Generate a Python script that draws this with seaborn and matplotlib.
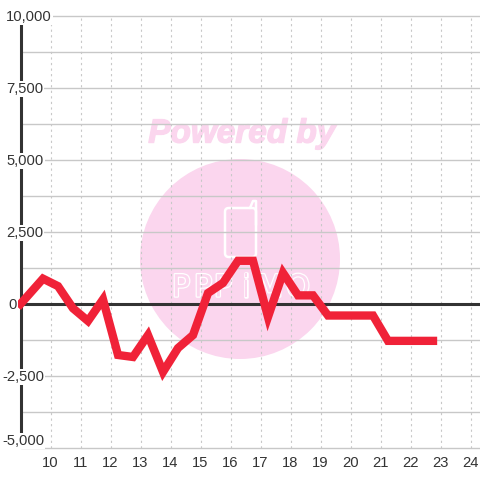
import matplotlib
matplotlib.use("Agg")
import matplotlib.pyplot as plt
import matplotlib.patheffects as pe
import pandas as pd
import seaborn as sns
from matplotlib.patches import Circle, FancyBboxPatch

#------Data------

hours = [9.0, 9.75, 10.25, 10.75, 11.25, 11.75, 12.25, 12.75, 13.25, 13.75, 14.25, 14.75,
         15.25, 15.75, 16.25, 16.75, 17.25, 17.75, 18.25, 18.75, 19.25, 19.75, 20.25, 20.75,
         21.25, 21.75, 22.25, 22.75]
values = [0, 880, 620, -150, -590, 160, -1770, -1840, -1080, -2360, -1530, -1080,
          380, 730, 1500, 1500, -450, 1080, 300, 300, -400, -400, -400, -400,
          -1280, -1280, -1280, -1280]

x_ticks = list(range(10, 25))
y_major = [10000, 7500, 5000, 2500, 0, -2500, -5000]
y_labels = ["10,000", "7,500", "5,000", "2,500", "0", "-2,500", "-5,000"]
y_minor = [8750, 6250, 3750, 1250, -1250, -3750]

#------Colors------

RED = "#f02238"
DARK = "#333333"
GRID = "#c8c8c8"
PINK = "#fbd6ee"

#------Plot------

sns.set_theme(style="white")
plt.rcParams["font.family"] = ["Liberation Sans", "DejaVu Sans"]

fig = plt.figure(figsize=(4.8, 4.8), dpi=100)
# axes fill the figure: 30px per hour and 72px per 2,500
ax = fig.add_axes([0, 0, 1, 1])
ax.set_xlim(9 - 20.5 / 30, 9 + 459.5 / 30)
ax.set_ylim(-5000 - 32 * 2500 / 72, 10000 + 16 * 2500 / 72)
ax.axis("off")


def px(x, y):
    return x / 480, 1 - y / 480


#watermark
ax.add_patch(Circle(px(240, 259), 100 / 480, transform=fig.transFigure, fc=PINK, ec="none", zorder=1))
ax.text(*px(242, 134), "Powered by", transform=fig.transFigure, color=PINK, fontsize=24,
        fontweight="bold", fontstyle="italic", ha="center", va="center", zorder=1,
        path_effects=[pe.withStroke(linewidth=1, foreground=PINK)])
ax.add_patch(FancyBboxPatch(px(225, 257), 31 / 480, 49 / 480, boxstyle="round,pad=0,rounding_size=0.008",
                            transform=fig.transFigure, fc="none", ec="white", lw=1.8, zorder=1.1))
ax.plot(*zip(px(250, 208), px(253, 201), px(256, 201), px(256, 225)), transform=fig.transFigure,
        color="white", lw=1.8, zorder=1.1)
for letter, center in zip("PPPiMO", [181, 203, 223, 246, 270, 298]):
    ax.text(*px(center, 288), letter, transform=fig.transFigure, color=PINK, fontsize=22, family="DejaVu Sans",
            ha="center", va="center", zorder=1.1,
            path_effects=[pe.withStroke(linewidth=1.8, foreground="white")])

#grid
for x in x_ticks:
    ax.plot([x, x], [-5000, 10000], color=GRID, lw=0.8, ls=(0, (2, 3)), zorder=2)
for y in y_major + y_minor:
    ax.plot([9, ax.get_xlim()[1]], [y, y], color=GRID, lw=1, zorder=2)

#axis lines
ax.plot([9, ax.get_xlim()[1]], [0, 0], color=DARK, lw=2.2, zorder=3, solid_capstyle="butt")
ax.plot([9, 9], [-5000, 10000], color=DARK, lw=2.2, zorder=3, solid_capstyle="butt")

df = pd.DataFrame({"hour": hours, "value": values})
sns.lineplot(data=df, x="hour", y="value", sort=False, estimator=None, color=RED, lw=6, ax=ax, zorder=4,
             solid_joinstyle="miter", solid_capstyle="projecting", legend=False)

#tick labels
box = dict(fc="white", ec="none", pad=1)
for y, label in zip(y_major, y_labels):
    left = 2 if label.startswith("-") else (8 if label == "0" else 6)
    # bottom label sits above its gridline
    shift = 7 if y == y_major[-1] else -1
    ax.annotate(label, xy=(left, y), xytext=(0, shift), xycoords=("figure pixels", "data"),
                textcoords="offset pixels", color=DARK, fontsize=10.6,
                ha="left", va="center", bbox=box, zorder=5)
for x in x_ticks:
    ax.annotate(str(x), xy=(x, -5000), xytext=(0, -8), xycoords="data", textcoords="offset pixels", color=DARK,
                fontsize=10.6, ha="center", va="top", zorder=5)

fig.savefig("out.png", dpi=100)
